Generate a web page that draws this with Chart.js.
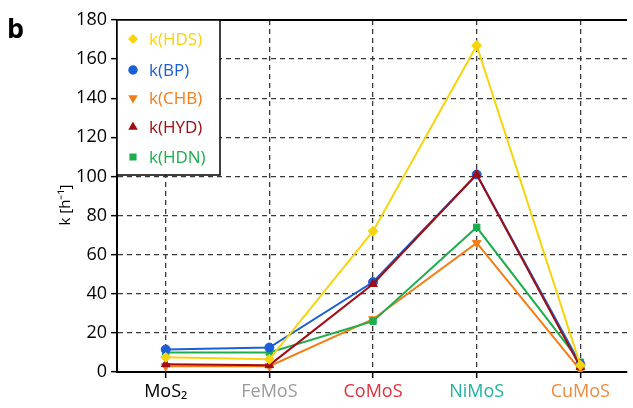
<!DOCTYPE html>
<html>
<head>
<meta charset="utf-8">
<script src="https://cdn.jsdelivr.net/npm/chart.js@4/dist/chart.umd.min.js"></script>
<style>
  html, body { margin: 0; padding: 0; background: #fff; }
  #wrap { position: relative; width: 633px; height: 408px; }
</style>
</head>
<body>
<div id="wrap"><canvas id="myChart" width="633" height="408"></canvas></div>
<script>
// categories + colours of the x labels
var catalysts = ["MoS\u2082", "FeMoS", "CoMoS", "NiMoS", "CuMoS"];
var catalystColors = ["#000000", "#9a9a9a", "#e0303c", "#1fb3a0", "#f08a3a"];

// rate constants k [h-1]
var kHDS = [7.5, 6.5, 72, 167, 3.5];
var kBP  = [11.5, 12.5, 46, 101, 4];
var kCHB = [3, 3, 27, 66, 1];
var kHYD = [4, 3.5, 45, 101, 2.5];
var kHDN = [10, 10, 26, 74, 5];

var yTicks = [0, 20, 40, 60, 80, 100, 120, 140, 160, 180];

function toPoints(arr) {
  return arr.map(function (v, i) { return { x: i, y: v }; });
}

// order: lower number is drawn on top
var series = [
  { label: "k(HDS)", data: kHDS, color: "#f7d40c", style: "rectRot", radius: 5, rot: 0, order: 0 },
  { label: "k(BP)",  data: kBP,  color: "#1a5fd6", style: "circle", radius: 4.5, rot: 0, order: 2 },
  { label: "k(CHB)", data: kCHB, color: "#f47d16", style: "triangle", radius: 5, rot: 180, order: 4 },
  { label: "k(HYD)", data: kHYD, color: "#a10d12", style: "triangle", radius: 5, rot: 0, order: 1 },
  { label: "k(HDN)", data: kHDN, color: "#1cae4c", style: "rect", radius: 4.5, rot: 0, order: 3 }
];

var datasets = series.map(function (s) {
  return {
    label: s.label,
    data: toPoints(s.data),
    borderColor: s.color,
    backgroundColor: s.color,
    borderWidth: 2,
    pointStyle: s.style,
    pointRadius: s.radius,
    pointRotation: s.rot,
    pointBorderWidth: 1,
    order: s.order,
    tension: 0
  };
});

// legend box, top frame, axis title and panel letter
var boxPlugin = {
  id: "boxPlugin",
  afterDraw: function (chart) {
    var c = chart.ctx;
    var a = chart.chartArea;
    c.save();
    // top frame line
    c.strokeStyle = "#000";
    c.lineWidth = 2;
    c.beginPath();
    c.moveTo(a.left, a.top);
    c.lineTo(a.right, a.top);
    c.stroke();

    // legend box
    var bx = a.left, by = a.top, bw = 103, bh = 155;
    c.fillStyle = "#fff";
    c.fillRect(bx, by, bw, bh);
    c.lineWidth = 1.5;
    c.strokeRect(bx, by, bw, bh);
    c.font = "17px 'Open Sans'";
    c.textBaseline = "middle";
    var rows = [39, 70, 98, 127, 157];
    series.forEach(function (s, i) {
      var y = rows[i];
      c.fillStyle = s.color;
      c.strokeStyle = s.color;
      Chart.helpers.drawPoint(c, { pointStyle: s.style, radius: 4, rotation: s.rot, borderWidth: 1 }, 133, y);
      c.fillText(s.label, 149, y + 1);
    });

    // y axis title
    c.fillStyle = "#000";
    c.font = "15px 'Open Sans'";
    c.textAlign = "center";
    c.translate(66, 205);
    c.rotate(-Math.PI / 2);
    c.fillText("k [h\u207B\u00B9]", 0, 0);
    c.setTransform(1, 0, 0, 1, 0, 0);

    // panel letter
    c.textAlign = "left";
    c.font = "bold 27px 'Open Sans'";
    c.textBaseline = "alphabetic";
    c.fillText("b", 7, 38);
    c.restore();
  }
};

var ctx = document.getElementById("myChart");
var myChart = new Chart(ctx, {
  type: "line",
  data: { datasets: datasets },
  options: {
    responsive: false,
    animation: false,
    layout: { padding: { top: 20, right: 0, left: 0, bottom: 0 } },
    plugins: {
      legend: { display: false },
      tooltip: { enabled: false }
    },
    scales: {
      x: {
        type: "linear",
        min: -0.47,
        max: 4.45,
        afterBuildTicks: function (scale) {
          scale.ticks = catalysts.map(function (c, i) { return { value: i }; });
        },
        afterFit: function (scale) { scale.height = 36; },
        ticks: {
          callback: function (v, i) { return catalysts[i]; },
          color: function (c) { return catalystColors[c.index]; },
          font: { family: "'Open Sans'", size: 18 },
          padding: 3,
          maxRotation: 0,
          autoSkip: false
        },
        grid: {
          color: "#3a3a3a",
          lineWidth: 1.3,
          tickColor: "#000",
          tickLength: 6,
          tickBorderDash: [],
          tickWidth: 1.5
        },
        border: { display: true, color: "#000", width: 2, dash: [5, 4] }
      },
      y: {
        min: 0,
        max: 180,
        afterBuildTicks: function (scale) {
          scale.ticks = yTicks.map(function (v) { return { value: v }; });
        },
        afterFit: function (scale) { scale.width = 117; },
        ticks: {
          color: "#000",
          font: { family: "'Open Sans'", size: 18 },
          padding: 4
        },
        grid: {
          color: "#3a3a3a",
          lineWidth: 1.3,
          tickColor: "#000",
          tickLength: 6,
          tickBorderDash: [],
          tickWidth: 1.5
        },
        border: { display: true, color: "#000", width: 2, dash: [5, 4] }
      }
    }
  },
  plugins: [boxPlugin]
});
</script>
</body>
</html>
